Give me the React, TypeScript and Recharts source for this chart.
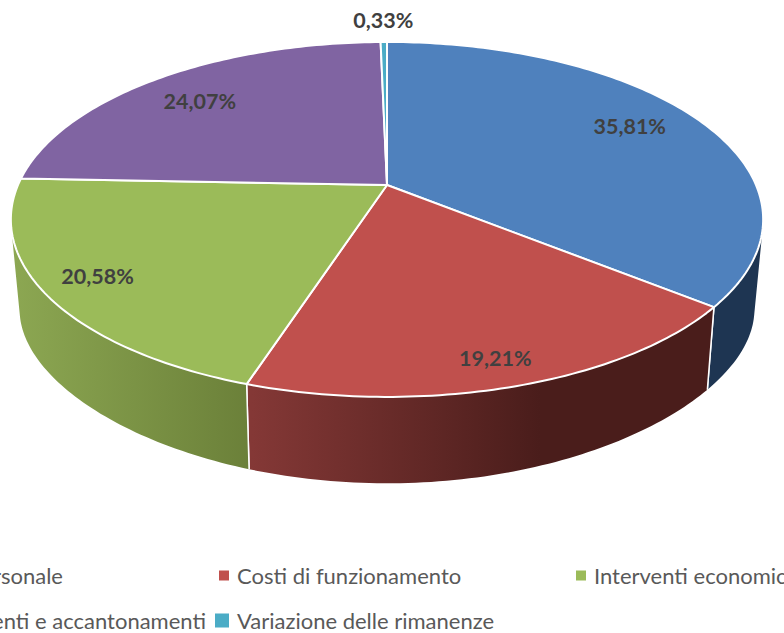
import { PieChart, Pie, Legend } from "recharts";

// Categories and values (percentages)
const categories = [
  "Personale",
  "Costi di funzionamento",
  "Interventi economici",
  "Ammortamenti e accantonamenti",
  "Variazione delle rimanenze",
];
const values = [35.81, 19.21, 20.58, 24.07, 0.33];
const labels = ["35,81%", "19,21%", "20,58%", "24,07%", "0,33%"];

const chartData = categories.map((name, i) => ({ name, value: values[i] }));

const COLORS = ["#4F81BD", "#C0504D", "#9BBB59", "#8064A2", "#4BACC6"];
// side wall shading: [x start, colour start, x end, colour end]
const WALLS: [number, string, number, string][] = [
  [700, "#1E3552", 770, "#1E3552"],
  [252, "#843836", 540, "#4A1D1B"],
  [13, "#8CA752", 250, "#6B8039"],
  [13, "#5A4672", 387, "#5A4672"],
  [380, "#2D7386", 390, "#2D7386"],
];
// how far out on the tilted disc each percentage sits, plus a small nudge
const LABEL_RADIUS = [0.79, 0.88, 0.87, 0.78, 1.19];
const LABEL_NUDGE = [
  [-4, -4],
  [-2, 1],
  [2, -3],
  [-5, 2],
  [0, 0],
];

const CX = 387;
const CY = 185;

// the pie is a tilted disc seen in perspective, so the centre is not the
// middle of the ellipse. Top face and lower rim use their own mapping.
const topRim = (u: number, v: number) => {
  const d = 1 - 0.194 * v;
  return [CX + (369 * u) / d, CY + (170.8 * v) / d];
};
const lowRim = (u: number, v: number) => {
  return [CX + (360 * u) / (1 - 0.2 * v), 279 + (143 * v) / (1 - 0.3 * v)];
};
const onDisc = (rim: typeof topRim, deg: number, r = 1) => {
  const a = (deg * Math.PI) / 180;
  return rim(r * Math.cos(a), -r * Math.sin(a));
};
const arcPoints = (rim: typeof topRim, from: number, to: number) => {
  const n = Math.max(2, Math.ceil(Math.abs(to - from)));
  const pts: number[][] = [];
  for (let i = 0; i <= n; i++) {
    pts.push(onDisc(rim, from + ((to - from) * i) / n));
  }
  return pts;
};
const toPath = (pts: number[][]) =>
  "M" + pts.map((p) => `${p[0].toFixed(2)} ${p[1].toFixed(2)}`).join("L") + "Z";

const TopFace = (props: any) => {
  const { startAngle, endAngle, index } = props;
  const d = toPath([[CX, CY], ...arcPoints(topRim, startAngle, endAngle)]);
  return (
    <path
      d={d}
      fill={COLORS[index]}
      stroke="#fff"
      strokeWidth={2}
      strokeLinejoin="round"
    />
  );
};

const SideWall = (props: any) => {
  const { startAngle, endAngle, index } = props;
  const top = arcPoints(topRim, startAngle, endAngle);
  const low = arcPoints(lowRim, startAngle, endAngle);
  // small quads, all wound the same way, so the part that folds round the
  // silhouette of the cylinder still gets filled
  let d = "";
  for (let i = 0; i < top.length - 1; i++) {
    const quad = [top[i], top[i + 1], low[i + 1], low[i]];
    let area = 0;
    quad.forEach((p, j) => {
      const q = quad[(j + 1) % 4];
      area += p[0] * q[1] - q[0] * p[1];
    });
    d += toPath(area < 0 ? quad.reverse() : quad);
  }
  const last = top.length - 1;
  const w = WALLS[index];
  return (
    <g>
      <defs>
        <linearGradient
          id={`wall-${index}`}
          gradientUnits="userSpaceOnUse"
          x1={w[0]}
          y1={0}
          x2={w[2]}
          y2={0}
        >
          <stop offset="0%" stopColor={w[1]} />
          <stop offset="100%" stopColor={w[3]} />
        </linearGradient>
      </defs>
      <path d={d} fill={`url(#wall-${index})`} stroke="none" />
      <path
        d={`M${top[0].join(" ")}L${low[0].join(" ")}M${top[last].join(" ")}L${low[last].join(" ")}`}
        fill="none"
        stroke="#fff"
        strokeWidth={1.5}
      />
    </g>
  );
};

const renderLabel = (props: any) => {
  const { midAngle, index } = props;
  const p = onDisc(topRim, midAngle, LABEL_RADIUS[index]);
  return (
    <text
      x={p[0] + LABEL_NUDGE[index][0]}
      y={p[1] + LABEL_NUDGE[index][1]}
      textAnchor="middle"
      dominantBaseline="central"
      fill="#404040"
      fontFamily="Lato, sans-serif"
      fontWeight={700}
      fontSize={21.5}
    >
      {labels[index]}
    </text>
  );
};

// legend runs wider than the picture, first and third entries get cut off
const legendSpots = [
  { end: 63, y: 575, mark: 10 },
  { x: 237, y: 575, mark: 10 },
  { x: 594, y: 575, mark: 10 },
  { end: 206, y: 620, mark: 10 },
  { x: 237, y: 620, mark: 14 },
];

const renderLegend = () => (
  <div style={{ position: "relative", width: 784, height: 633 }}>
    {categories.map((name, i) => {
      const s = legendSpots[i];
      const left = s.x ?? s.end;
      return (
        <div
          key={name}
          style={{
            position: "absolute",
            left,
            top: s.y,
            transform: `translate(${s.x === undefined ? "-100%" : "0"}, -50%)`,
            whiteSpace: "nowrap",
            fontFamily: "Lato, sans-serif",
            fontSize: 22,
            color: "#595959",
          }}
        >
          <span
            style={{
              position: "absolute",
              left: -7 - s.mark - 1,
              top: "50%",
              marginTop: -s.mark / 2,
              width: s.mark,
              height: s.mark,
              background: COLORS[i],
              display: s.x === undefined ? "none" : "block",
            }}
          />
          {name}
        </div>
      );
    })}
  </div>
);

export default function App() {
  return (
    <div
      style={{
        position: "absolute",
        left: 0,
        top: 0,
        width: 784,
        height: 633,
        overflow: "hidden",
        background: "#fff",
      }}
    >
      <PieChart width={784} height={633} margin={{ top: 0, right: 0, bottom: 0, left: 0 }}>
        <Pie
          data={chartData}
          dataKey="value"
          nameKey="name"
          cx={CX}
          cy={CY}
          outerRadius={369}
          startAngle={90}
          endAngle={-270}
          stroke="none"
          legendType="none"
          shape={SideWall}
          isAnimationActive={false}
        />
        <Pie
          data={chartData}
          dataKey="value"
          nameKey="name"
          cx={CX}
          cy={CY}
          outerRadius={369}
          startAngle={90}
          endAngle={-270}
          shape={TopFace}
          label={renderLabel}
          labelLine={false}
          isAnimationActive={false}
        />
        <Legend
          content={renderLegend}
          wrapperStyle={{ left: 0, top: 0, width: 784, height: 633 }}
        />
      </PieChart>
    </div>
  );
}
